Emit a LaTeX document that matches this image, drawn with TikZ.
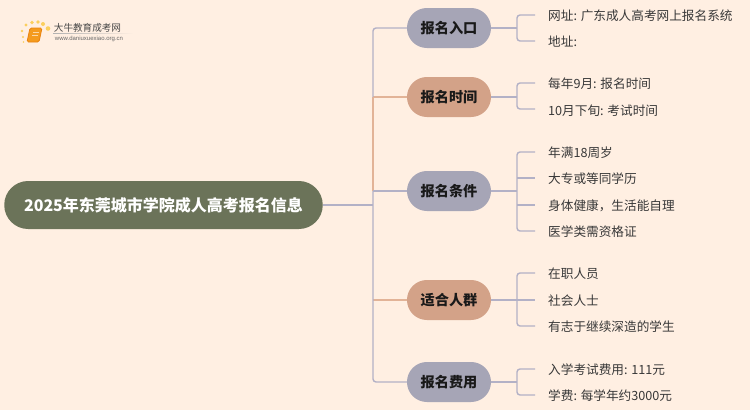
\documentclass[tikz,border=0pt]{standalone}
\usepackage{fontspec}
\usetikzlibrary{fadings}
\setmainfont{Noto Sans CJK SC}
\newfontfamily\latin{Liberation Sans}
\definecolor{bg}{HTML}{FFEFE2}
\definecolor{rootc}{HTML}{6B7359}
\definecolor{greyc}{HTML}{A6A5B6}
\definecolor{tanc}{HTML}{D3A288}
\definecolor{linec}{HTML}{B3B1C6}
\definecolor{tanl}{HTML}{E2B397}
\definecolor{logoc}{HTML}{F49B1E}
\definecolor{logod}{HTML}{E9820F}
\definecolor{dotc}{HTML}{FBCF5E}
\tikzset{
 x=1pt,y=-1pt,
 rootbox/.style={rounded corners=23.9pt,fill=rootc,minimum width=318.5pt,minimum height=48pt,text=white,font=\fontsize{16}{18}\selectfont\bfseries,inner sep=0pt},
 bluebox/.style={rounded corners=19.9pt,fill=greyc,minimum width=84pt,minimum height=40pt,font=\fontsize{14.2}{16}\selectfont\bfseries,text=black!90,inner sep=0pt},
 tanbox/.style={bluebox,fill=tanc},
 leaf/.style={anchor=base west,font=\fontsize{12.65}{15}\selectfont,text=black!78,inner sep=0pt},
 conn/.style={draw=linec,line width=1.4pt,rounded corners=3pt},
 tconn/.style={draw=tanl,line width=1.4pt,rounded corners=3pt},
}
\begin{document}
\begin{tikzpicture}
\useasboundingbox[fill=bg] (0,0) rectangle (750,410);
\coordinate (trunk) at (373,205);
\node[rootbox] (root) at (163.5,205) {2025年东莞城市学院成人高考报名信息};
\node[bluebox] (b1) at (449,28) {报名入口};
\node[tanbox] (b2) at (449,97) {报名时间};
\node[bluebox] (b3) at (449,191) {报名条件};
\node[tanbox] (b4) at (449,300) {适合人群};
\node[bluebox] (b5) at (449,382) {报名费用};
% leaves (baseline positions)
\node[leaf] (l11) at (548,20.5) {网址: 广东成人高考网上报名系统};
\node[leaf] (l12) at (548,46.5) {地址:};
\node[leaf] (l21) at (548,88.5) {每年9月: 报名时间};
\node[leaf] (l22) at (548,115) {10月下旬: 考试时间};
\node[leaf] (l31) at (548,157.5) {年满18周岁};
\node[leaf] (l32) at (548,183.5) {大专或等同学历};
\node[leaf] (l33) at (548,210) {身体健康，生活能自理};
\node[leaf] (l34) at (548,236.5) {医学类需资格证};
\node[leaf] (l41) at (548,278.5) {在职人员};
\node[leaf] (l42) at (548,305) {社会人士};
\node[leaf] (l43) at (548,331.5) {有志于继续深造的学生};
\node[leaf] (l51) at (548,374) {入学考试费用: 111元};
\node[leaf] (l52) at (548,400.5) {学费: 每学年约3000元};
% trunk connectors
\draw[tconn] (373,97) -- (373,191);
\draw[tconn] (b2.west) -- (373,97);
\draw[tconn] (b4.west) -- (373,300);
\draw[conn] (root.east) -- (trunk);
\draw[conn] (b1.west) -- (373,28) -- (373,97);
\draw[conn] (373,191) -- (373,382) -- (b5.west);
\draw[conn] (373,191) -- (b3.west);
% leaf connectors
\foreach \b/\y/\u/\d in {b1/28/15/41, b2/97/83/109, b4/300/273/326, b5/382/369/395}{
 \draw[conn] (\b.east) -- (517,\y);
 \draw[conn] (535,\u) -- (517,\u) -- (517,\d) -- (535,\d);
}
\draw[conn] (b3.east) -- (517,191);
\draw[conn] (535,152) -- (517,152) -- (517,231) -- (535,231);
\draw[conn] (517,178) -- (535,178);
\draw[conn] (517,205) -- (535,205);
\draw[conn] (517,300) -- (535,300);
% logo
\node[inner sep=0pt,font=\fontsize{9.6}{11}\selectfont,text=black!72] (logo1) at (87.5,27.5) {大牛教育成考网};
\node[inner sep=0pt,font=\latin\fontsize{6}{7}\selectfont,text=black!60] (logo2) at (89,39) {www.daniuxuexiao.org.cn};
\fill[black!30,path fading=east] (53,33) rectangle (133,33.7);
\draw[rounded corners=1.5pt,fill=logoc,draw=logod,line width=.8pt] (30,28) -- (42,28) -- (39,42) -- (27,42) -- cycle;
\draw[white!60!logoc,line width=.7pt] (33,32) -- (39,32) (32.3,35) -- (38,35);
\foreach \x/\y/\r in {22/31/1.3,26/25/1.7,32/22.5/1.9,38/22/1.9,43/24/2,48/28.5/2.3,23/37/1.1,23.5/42/.8}{
 \fill[dotc] (\x,\y) circle[radius=\r];
}
\end{tikzpicture}
\end{document}
